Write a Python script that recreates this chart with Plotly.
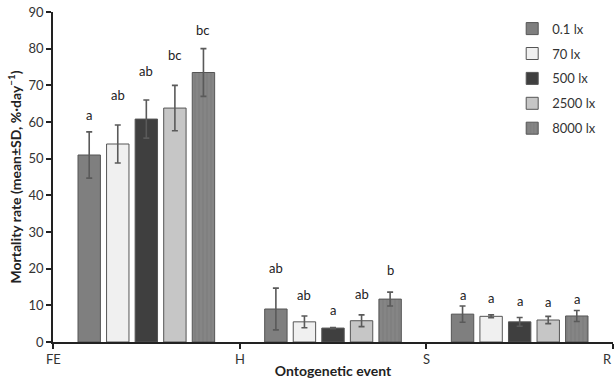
import plotly.graph_objects as go

events = ["FE", "H", "S", "R"]
group_centers = [0.5, 1.5, 2.5]
series_names = ["0.1 lx", "70 lx", "500 lx", "2500 lx", "8000 lx"]
mean_01 = [51.0, 9.0, 7.6]
mean_70 = [54.0, 5.5, 7.0]
mean_500 = [60.8, 3.8, 5.5]
mean_2500 = [63.8, 5.8, 6.0]
mean_8000 = [73.5, 11.7, 7.1]
sd_01 = [6.3, 5.7, 2.2]
sd_70 = [5.2, 1.6, 0.4]
sd_500 = [5.2, 0.15, 1.2]
sd_2500 = [6.2, 1.6, 1.0]
sd_8000 = [6.5, 1.9, 1.5]
letters_01 = ["a", "ab", "a"]
letters_70 = ["ab", "ab", "a"]
letters_500 = ["ab", "a", "a"]
letters_2500 = ["bc", "ab", "a"]
letters_8000 = ["bc", "b", "a"]
letter_y_01 = [62.0, 20.2, 12.8]
letter_y_70 = [67.5, 12.8, 12.0]
letter_y_500 = [73.8, 8.7, 11.2]
letter_y_2500 = [78.4, 13.1, 10.9]
letter_y_8000 = [85.2, 19.7, 11.7]

means = [mean_01, mean_70, mean_500, mean_2500, mean_8000]
sds = [sd_01, sd_70, sd_500, sd_2500, sd_8000]
letters = [letters_01, letters_70, letters_500, letters_2500, letters_8000]
letter_ys = [letter_y_01, letter_y_70, letter_y_500, letter_y_2500, letter_y_8000]
colors = ["#7f7f7f", "#f0f0f0", "#3f3f3f", "#c6c6c6", "#858585"]
step = 0.153
width = 0.12

fig = go.Figure()
annotations = []
for i, name in enumerate(series_names):
    xs = [c + (i - 2) * step for c in group_centers]
    pattern = dict(shape="|", fgcolor="#6e6e6e", size=4, solidity=0.2) if i == 4 else None
    fig.add_trace(go.Bar(
        x=xs, y=means[i], width=width, name=name, legendgroup=name,
        marker=dict(color=colors[i], line=dict(color="#555555", width=1),
                    pattern=pattern),
        error_y=dict(type="data", array=sds[i], color="#5a5a5a", thickness=1.6, width=3),
    ))
    for x, lab, ly in zip(xs, letters[i], letter_ys[i]):
        annotations.append(dict(x=x, y=ly, text=lab, showarrow=False,
                                font=dict(size=13, color="#222222", family="Lato"),
                                xanchor="center", yanchor="middle"))

# Event labels along the x axis (as annotations so the last one is kept at the edge)
for k, ev in enumerate(events):
    last = k == len(events) - 1
    annotations.append(dict(x=k, xref="x", y=0, yref="paper", yshift=-7, text=ev,
                            showarrow=False, xanchor="right" if last else "center",
                            xshift=1 if last else 0, yanchor="top",
                            font=dict(size=13, color="#333333", family="Lato")))

fig.update_layout(
    width=615, height=383,
    margin=dict(l=53, r=2, t=12, b=41),
    paper_bgcolor="white", plot_bgcolor="white",
    barmode="overlay",
    font=dict(family="Lato", size=13, color="#333333"),
    annotations=annotations,
    legend=dict(x=0.82, y=0.995, xanchor="left", yanchor="top",
                font=dict(size=13, color="#333333", family="Lato"),
                tracegroupgap=5, itemwidth=30, bgcolor="rgba(0,0,0,0)"),
    xaxis=dict(range=[0, 3], tickmode="array", tickvals=[0, 1, 2, 3], showticklabels=False,
               showline=True, linecolor="#222222", linewidth=1.5,
               ticks="outside", ticklen=5, tickcolor="#222222", tickwidth=1.5,
               showgrid=False, zeroline=False,
               title=dict(text="<b>Ontogenetic event</b>", font=dict(size=14, color="#222222"), standoff=18)),
    yaxis=dict(range=[0, 90], dtick=10,
               showline=True, linecolor="#222222", linewidth=1.5,
               ticks="outside", ticklen=5, tickcolor="#222222", tickwidth=1.5,
               showgrid=False, zeroline=False,
               title=dict(text="<b>Mortality rate (mean±SD, %·day<sup>−1</sup>)</b>",
                          font=dict(size=14, color="#222222"), standoff=4)),
)
fig.write_html("out.html")
